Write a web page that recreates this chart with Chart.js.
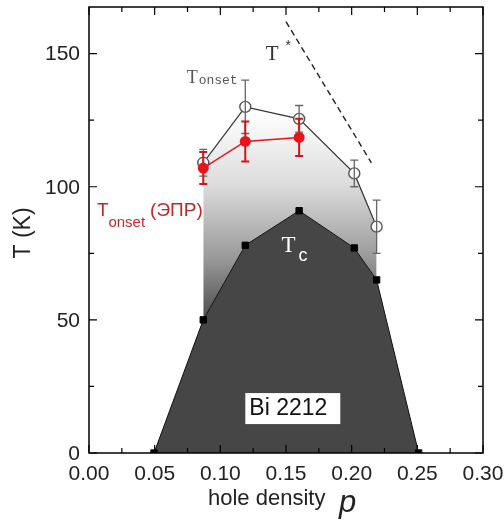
<!DOCTYPE html>
<html>
<head>
<meta charset="utf-8">
<script src="https://cdn.jsdelivr.net/npm/chart.js@4/dist/chart.umd.min.js"></script>
<style>
  html, body { margin: 0; padding: 0; background: #fff; }
  #wrap { width: 504px; height: 521px; }
</style>
</head>
<body>
<div id="wrap"><canvas id="chart" width="504" height="521"></canvas></div>
<script>
// hole density values and temperatures
const tcDensity = [0.0495, 0.087, 0.119, 0.160, 0.202, 0.219, 0.251];
const tcValues = [0, 50, 78, 91, 77, 65, 0];

const onsetDensity = [0.087, 0.119, 0.160, 0.202, 0.219];
const onsetValues = [109, 130, 125.5, 105, 85];
const onsetErrors = [5, 10, 5, 5, 10];

const eprDensity = [0.087, 0.119, 0.160];
const eprValues = [107, 117, 118.5];
const eprErrors = [6, 7.5, 7];

const tStarDensity = [0.150, 0.215];
const tStarValues = [162, 109];

const xTicks = [0, 0.05, 0.10, 0.15, 0.20, 0.25, 0.30];
const yTicks = [0, 50, 100, 150];

const toPoints = (xs, ys) => xs.map((x, i) => ({ x: x, y: ys[i] }));

// error bars, inward ticks, frame and labels
const extras = {
    id: 'extras',
    afterDatasetsDraw(chart) {
        const c = chart.ctx;
        const xs = chart.scales.x, ys = chart.scales.y;
        const a = chart.chartArea;

        function errBars(xv, yv, ev, color, w) {
            c.save();
            c.strokeStyle = color;
            c.lineWidth = w;
            xv.forEach((x, i) => {
                const px = xs.getPixelForValue(x);
                const top = ys.getPixelForValue(yv[i] + ev[i]);
                const bot = ys.getPixelForValue(yv[i] - ev[i]);
                c.beginPath();
                c.moveTo(px, top); c.lineTo(px, bot);
                c.moveTo(px - 4, top); c.lineTo(px + 4, top);
                c.moveTo(px - 4, bot); c.lineTo(px + 4, bot);
                c.stroke();
            });
            c.restore();
        }
        errBars(onsetDensity, onsetValues, onsetErrors, '#666', 1.3);
        errBars(eprDensity, eprValues, eprErrors, '#d01515', 2);

        // redraw red points on top of the bars
        c.save();
        c.fillStyle = '#e8141a';
        eprDensity.forEach((x, i) => {
            c.beginPath();
            c.arc(xs.getPixelForValue(x), ys.getPixelForValue(eprValues[i]), 5.5, 0, Math.PI * 2);
            c.fill();
        });
        c.restore();

        // frame
        c.save();
        c.strokeStyle = '#000';
        c.lineWidth = 1.5;
        c.strokeRect(a.left, a.top, a.right - a.left, a.bottom - a.top);

        // ticks
        c.lineWidth = 1.2;
        c.beginPath();
        for (let v = 0; v <= 0.3001; v += 0.025) {
            const px = xs.getPixelForValue(v);
            const major = Math.round(v / 0.025) % 2 === 0;
            const len = major ? 8 : 5;
            c.moveTo(px, a.bottom); c.lineTo(px, a.bottom - len);
            c.moveTo(px, a.top); c.lineTo(px, a.top + len);
        }
        for (let v = 0; v <= 167; v += 25) {
            const py = ys.getPixelForValue(v);
            const len = v % 50 === 0 ? 8 : 5;
            c.moveTo(a.left, py); c.lineTo(a.left + len, py);
            c.moveTo(a.right, py); c.lineTo(a.right - len, py);
        }
        c.stroke();

        // tick labels
        c.fillStyle = '#222';
        c.font = '21px "Liberation Sans"';
        c.textAlign = 'center';
        c.textBaseline = 'top';
        xTicks.forEach(v => c.fillText(v.toFixed(2), xs.getPixelForValue(v), a.bottom + 11));
        c.textAlign = 'right';
        c.textBaseline = 'middle';
        yTicks.forEach(v => c.fillText(String(v), a.left - 9, ys.getPixelForValue(v) + 1));
        c.restore();

        c.save();
        c.textBaseline = 'alphabetic';
        // T* line label
        c.fillStyle = '#333';
        c.font = '21px "Liberation Serif"';
        c.fillText('T', xs.getPixelForValue(0.1345), ys.getPixelForValue(147.5));
        c.font = '14px "Liberation Mono"';
        c.fillText('*', xs.getPixelForValue(0.1485), ys.getPixelForValue(151));

        // Tonset label
        c.fillStyle = '#555';
        c.font = '18px "Liberation Serif"';
        c.fillText('T', xs.getPixelForValue(0.0745), ys.getPixelForValue(139));
        c.font = '13px "Liberation Mono"';
        c.fillText('onset', xs.getPixelForValue(0.0835), ys.getPixelForValue(138.5));

        // Tc label
        c.fillStyle = '#fff';
        c.font = '23px "Liberation Serif"';
        c.fillText('T', xs.getPixelForValue(0.1465), ys.getPixelForValue(75.5));
        c.font = '18px "Liberation Sans"';
        c.fillText('c', xs.getPixelForValue(0.1595), ys.getPixelForValue(72));

        // EPR onset label
        c.fillStyle = '#c0282a';
        c.font = '19px "Liberation Sans"';
        c.fillText('T', xs.getPixelForValue(0.006), ys.getPixelForValue(89));
        c.font = '15px "Liberation Sans"';
        c.fillText('onset', xs.getPixelForValue(0.0148), ys.getPixelForValue(85));
        c.font = '19px "Liberation Sans"';
        c.fillText('(ЭПР)', xs.getPixelForValue(0.0465), ys.getPixelForValue(89));

        // Bi 2212 box
        const bx = xs.getPixelForValue(0.119), by = ys.getPixelForValue(22.5);
        c.fillStyle = '#fff';
        c.fillRect(bx, by, 95, 31);
        c.fillStyle = '#111';
        c.font = '23px "Liberation Sans"';
        c.textBaseline = 'middle';
        c.fillText('Bi 2212', bx + 4, by + 16);
        c.restore();

        // axis titles
        c.save();
        c.fillStyle = '#222';
        c.font = '22px "Liberation Sans"';
        c.textBaseline = 'alphabetic';
        c.fillText('hole density', 208, 505);
        c.font = 'italic 31px "Liberation Sans"';
        c.fillText('p', 339, 512);
        c.translate(30, (a.top + a.bottom) / 2 + 3);
        c.rotate(-Math.PI / 2);
        c.font = '23px "Liberation Sans"';
        c.textAlign = 'center';
        c.fillText('T (K)', 0, 0);
        c.restore();
    }
};

const ctx = document.getElementById('chart').getContext('2d');
new Chart(ctx, {
    type: 'scatter',
    data: {
        datasets: [
            {
                // EPR onset (red)
                data: toPoints(eprDensity, eprValues),
                showLine: true,
                borderColor: '#e8141a',
                borderWidth: 1.5,
                pointRadius: 0,
                fill: false,
                order: 0
            },
            {
                // T* dashed
                data: toPoints(tStarDensity, tStarValues),
                showLine: true,
                borderColor: '#222',
                borderWidth: 1.4,
                borderDash: [6, 4],
                pointRadius: 0,
                fill: false,
                order: 1
            },
            {
                // Tonset open circles, gradient down to Tc
                data: toPoints(onsetDensity, onsetValues),
                showLine: true,
                borderColor: '#333',
                borderWidth: 1.2,
                pointRadius: 5.5,
                pointBackgroundColor: '#fff',
                pointBorderColor: '#555',
                pointBorderWidth: 1.4,
                fill: { target: 3 },
                backgroundColor: function (context) {
                    const chart = context.chart;
                    if (!chart.chartArea) return '#999';
                    const y = chart.scales.y;
                    const g = chart.ctx.createLinearGradient(0, y.getPixelForValue(128), 0, y.getPixelForValue(50));
                    g.addColorStop(0, '#ffffff');
                    g.addColorStop(0.35, '#dcdcdc');
                    g.addColorStop(0.7, '#9a9a9a');
                    g.addColorStop(1, '#4c4c4c');
                    return g;
                },
                order: 3
            },
            {
                // Tc squares, dark dome
                data: toPoints(tcDensity, tcValues),
                showLine: true,
                borderColor: '#111',
                borderWidth: 1,
                pointStyle: 'rect',
                pointRadius: 4.5,
                pointBackgroundColor: '#000',
                pointBorderColor: '#000',
                fill: 'origin',
                backgroundColor: '#464646',
                order: 2
            }
        ]
    },
    options: {
        responsive: false,
        animation: false,
        layout: { padding: { top: 7, right: 21, left: 0, bottom: 0 } },
        plugins: {
            legend: { display: false },
            tooltip: { enabled: false }
        },
        scales: {
            x: {
                type: 'linear',
                min: 0,
                max: 0.30,
                afterFit: (s) => { s.height = 68; },
                afterBuildTicks: (s) => { s.ticks = xTicks.map(v => ({ value: v })); },
                grid: { display: false, drawTicks: false },
                border: { display: false },
                ticks: { display: false }
            },
            y: {
                type: 'linear',
                min: 0,
                max: 167.5,
                afterFit: (s) => { s.width = 89; },
                afterBuildTicks: (s) => { s.ticks = yTicks.map(v => ({ value: v })); },
                grid: { display: false, drawTicks: false },
                border: { display: false },
                ticks: { display: false }
            }
        }
    },
    plugins: [extras]
});
</script>
</body>
</html>
